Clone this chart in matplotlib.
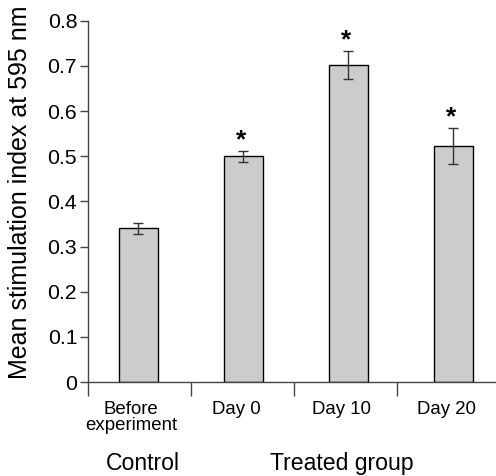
import numpy as np
import matplotlib
matplotlib.use("Agg")
import matplotlib.pyplot as plt

# data
groups = ["Before\nexperiment", "Day 0", "Day 10", "Day 20"]
means = [0.340, 0.500, 0.703, 0.522]
errors = [0.012, 0.012, 0.031, 0.040]
significant = [False, True, True, True]
yticks = [0, 0.1, 0.2, 0.3, 0.4, 0.5, 0.6, 0.7, 0.8]
ytick_labels = ["0", "0.1", "0.2", "0.3", "0.4", "0.5", "0.6", "0.7", "0.8"]

plt.rcParams['font.family'] = ['Liberation Sans', 'DejaVu Sans']

fig = plt.figure(figsize=(4.96, 4.76), dpi=100)
ax = fig.add_axes([88 / 496, 1 - 382 / 476, 408 / 496, 361.3 / 476])

x = np.arange(len(means))
ax.bar(x, means, width=0.37, color="#cccccc", edgecolor="black", linewidth=1.0, zorder=2)
ax.errorbar(x, means, yerr=errors, fmt="none", ecolor="#333333", elinewidth=1.0,
            capsize=3.3, capthick=1.0, zorder=3)

# stars above the error bars
for xi, m, e, s in zip(x, means, errors, significant):
    if s:
        ax.annotate("*", (xi - 0.02, m + e), xytext=(0, 7.5), textcoords="offset points",
                    ha="center", va="center", fontsize=19, fontweight="bold")

ax.set_xlim(-0.48, 3.405)
ax.set_ylim(0, 0.8)
ax.set_yticks(yticks)
ax.set_yticklabels(ytick_labels, fontsize=15.3)

# group labels sit under the bars, boundaries marked with long ticks
ax.set_xticks(x - 0.07)
ax.set_xticklabels(groups, fontsize=13.4, linespacing=0.9)
ax.set_xticks(-0.48 + 0.98 * x, minor=True)
ax.tick_params(axis="x", which="major", length=0, pad=14)
ax.tick_params(axis="x", which="minor", length=10, width=1.0, color="#444444", direction="out")
ax.tick_params(axis="y", length=5.8, width=1.0, color="#444444", direction="out", pad=2)

for side in ["top", "right"]:
    ax.spines[side].set_visible(False)
for side in ["left", "bottom"]:
    ax.spines[side].set_color("#444444")
    ax.spines[side].set_linewidth(1.0)

fig.text(20 / 496, 1 - 192 / 476, "Mean stimulation index at 595 nm", rotation=90,
         ha="center", va="center", fontsize=18)
fig.text(142.5 / 496, 1 - 470 / 476, "Control", ha="center", va="baseline", fontsize=16.6)
fig.text(342 / 496, 1 - 470 / 476, "Treated group", ha="center", va="baseline", fontsize=16.6)

fig.savefig("out.png", dpi=100)
